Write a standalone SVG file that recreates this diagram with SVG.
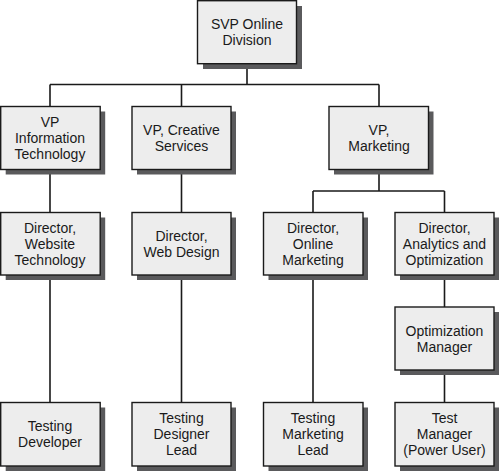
<svg xmlns="http://www.w3.org/2000/svg" width="500" height="472" viewBox="0 0 500 472">
<style>
.sh{fill:#5a5a5c}
.bx{fill:#ededed;stroke:#1a1a1a;stroke-width:1.4}
.t{font-family:"Liberation Sans",Arial,sans-serif;font-size:14px;fill:#1a1a1a;text-anchor:middle}
.c{fill:none;stroke:#1a1a1a;stroke-width:1.6}
</style>
<rect width="500" height="472" fill="#ffffff"/>
<g id="connectors">
<path class="c" d="M247,63.5V84.5M50,84.5H379M50,84.5V106.5M181.5,84.5V106.5M379,84.5V106.5"/>
<path class="c" d="M50,169.5V212.5M181.5,169.5V212.5M379,169.5V191M313,191H444.5M313,191V212.5M444.5,191V212.5"/>
<path class="c" d="M50,275V402.5M181.5,275V402.5M313,275V402.5M444.5,275V307M444.5,370V402.5"/>
</g>
<g id="svp"><rect class="sh" x="203" y="6" width="99" height="63"/><rect class="bx" x="197.5" y="0.7" width="99" height="63"/><text class="t" x="247" y="29">SVP Online</text><text class="t" x="247" y="45">Division</text></g>
<g id="vp-it"><rect class="sh" x="5.7" y="111.5" width="99.5" height="63"/><rect class="bx" x="0.7" y="106.5" width="99.5" height="63"/><text class="t" x="50" y="127">VP</text><text class="t" x="50" y="143">Information</text><text class="t" x="50" y="159">Technology</text></g>
<g id="vp-cs"><rect class="sh" x="137" y="111.5" width="99" height="63"/><rect class="bx" x="132" y="106.5" width="99" height="63"/><text class="t" x="181.5" y="135">VP, Creative</text><text class="t" x="181.5" y="151">Services</text></g>
<g id="vp-mk"><rect class="sh" x="334" y="111.5" width="99.5" height="63"/><rect class="bx" x="329" y="106.5" width="99.5" height="63"/><text class="t" x="379" y="135">VP,</text><text class="t" x="379" y="151">Marketing</text></g>
<g id="dir-wt"><rect class="sh" x="5.7" y="217.5" width="99.5" height="62.5"/><rect class="bx" x="0.7" y="212.5" width="99.5" height="62.5"/><text class="t" x="50" y="233">Director,</text><text class="t" x="50" y="249">Website</text><text class="t" x="50" y="265">Technology</text></g>
<g id="dir-wd"><rect class="sh" x="137" y="217.5" width="99" height="62.5"/><rect class="bx" x="132" y="212.5" width="99" height="62.5"/><text class="t" x="181.5" y="241">Director,</text><text class="t" x="181.5" y="257">Web Design</text></g>
<g id="dir-om"><rect class="sh" x="268.5" y="217.5" width="99.5" height="62.5"/><rect class="bx" x="263.5" y="212.5" width="99.5" height="62.5"/><text class="t" x="313" y="233">Director,</text><text class="t" x="313" y="249">Online</text><text class="t" x="313" y="265">Marketing</text></g>
<g id="dir-ao"><rect class="sh" x="400" y="217.5" width="99" height="62.5"/><rect class="bx" x="395" y="212.5" width="99" height="62.5"/><text class="t" x="444.5" y="233">Director,</text><text class="t" x="444.5" y="249">Analytics and</text><text class="t" x="444.5" y="265">Optimization</text></g>
<g id="opt-mgr"><rect class="sh" x="400" y="312" width="99" height="63"/><rect class="bx" x="395" y="307" width="99" height="63"/><text class="t" x="444.5" y="336">Optimization</text><text class="t" x="444.5" y="352">Manager</text></g>
<g id="test-dev"><rect class="sh" x="5.7" y="407.5" width="99.5" height="63.5"/><rect class="bx" x="0.7" y="402.5" width="99.5" height="63.5"/><text class="t" x="50" y="431">Testing</text><text class="t" x="50" y="447">Developer</text></g>
<g id="test-des"><rect class="sh" x="137" y="407.5" width="99" height="63.5"/><rect class="bx" x="132" y="402.5" width="99" height="63.5"/><text class="t" x="181.5" y="423">Testing</text><text class="t" x="181.5" y="439">Designer</text><text class="t" x="181.5" y="455">Lead</text></g>
<g id="test-mk"><rect class="sh" x="268.5" y="407.5" width="99.5" height="63.5"/><rect class="bx" x="263.5" y="402.5" width="99.5" height="63.5"/><text class="t" x="313" y="423">Testing</text><text class="t" x="313" y="439">Marketing</text><text class="t" x="313" y="455">Lead</text></g>
<g id="test-mgr"><rect class="sh" x="400" y="407.5" width="99" height="63.5"/><rect class="bx" x="395" y="402.5" width="99" height="63.5"/><text class="t" x="444.5" y="423">Test</text><text class="t" x="444.5" y="439">Manager</text><text class="t" x="444.5" y="455">(Power User)</text></g>
</svg>
